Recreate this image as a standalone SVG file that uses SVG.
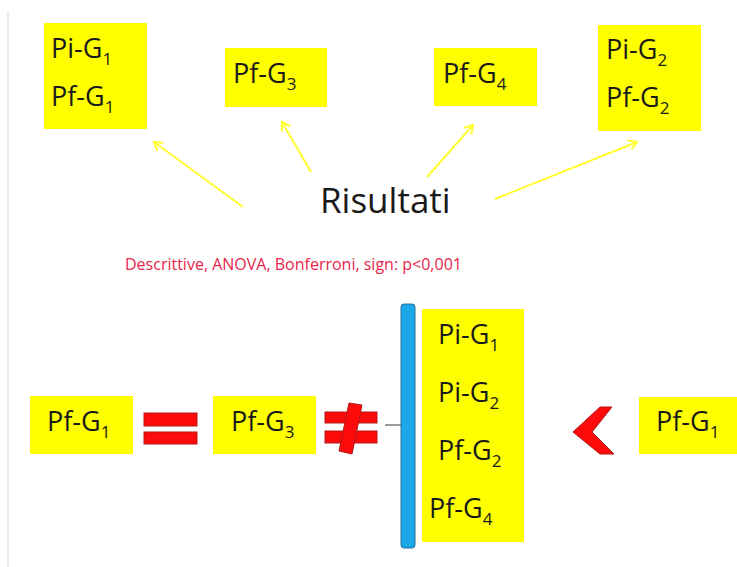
<svg xmlns="http://www.w3.org/2000/svg" width="737" height="567" viewBox="0 0 737 567">
<defs>
<style>
.box{fill:#ffff00}
.t{font-family:"Open Sans","Liberation Sans",sans-serif;font-size:27px;fill:#1a1a1a}
.s{font-size:17px}
.arr{stroke:#ffff30;stroke-width:2;fill:none}
.red{fill:#ff0a0a;stroke:#b01818;stroke-width:1}
</style>
<marker id="ah" markerWidth="12" markerHeight="12" refX="10" refY="6" orient="auto" markerUnits="userSpaceOnUse">
<path d="M2,1 L10,6 L2,11" fill="none" stroke="#ffff30" stroke-width="2"/>
</marker>
</defs>
<rect width="737" height="567" fill="#ffffff"/>
<line x1="8" y1="12" x2="8" y2="567" stroke="#d8d8d8" stroke-width="1"/>

<g id="n-top1">
<rect class="box" x="44" y="23" width="103" height="106"/>
<text class="t" x="51" y="58">Pi-G<tspan class="s" dy="7">1</tspan></text>
<text class="t" x="51" y="106">Pf-G<tspan class="s" dy="7">1</tspan></text>
</g>
<g id="n-top2">
<rect class="box" x="225" y="48" width="102" height="59"/>
<text class="t" x="233" y="83">Pf-G<tspan class="s" dy="7">3</tspan></text>
</g>
<g id="n-top3">
<rect class="box" x="434" y="48" width="103" height="58"/>
<text class="t" x="443" y="83">Pf-G<tspan class="s" dy="7">4</tspan></text>
</g>
<g id="n-top4">
<rect class="box" x="598" y="25" width="103" height="106"/>
<text class="t" x="606" y="59">Pi-G<tspan class="s" dy="7">2</tspan></text>
<text class="t" x="606" y="107">Pf-G<tspan class="s" dy="7">2</tspan></text>
</g>
<g id="n-risultati">
<text x="320" y="213" font-family="Open Sans, Liberation Sans, sans-serif" font-size="35" fill="#1a1a1a">Risultati</text>
</g>
<g id="n-note">
<text x="125" y="270" font-family="Open Sans, Liberation Sans, sans-serif" font-size="16" fill="#e8254a">Descrittive, ANOVA, Bonferroni, sign: p&lt;0,001</text>
</g>

<g id="connectors">
<line class="arr" x1="243" y1="207" x2="154" y2="142" marker-end="url(#ah)"/>
<line class="arr" x1="311" y1="172" x2="282" y2="122" marker-end="url(#ah)"/>
<line class="arr" x1="427" y1="177" x2="473" y2="125" marker-end="url(#ah)"/>
<line class="arr" x1="495" y1="199" x2="637" y2="142" marker-end="url(#ah)"/>
<line x1="385" y1="425" x2="401" y2="425" stroke="#555" stroke-width="1.2"/>
</g>

<g id="n-pfg1-left">
<rect class="box" x="30" y="396" width="103" height="58"/>
<text class="t" x="47" y="431">Pf-G<tspan class="s" dy="7">1</tspan></text>
</g>
<g id="eq">
<rect class="red" x="144" y="413" width="53" height="13"/>
<rect class="red" x="144" y="432" width="53" height="12"/>
</g>
<g id="n-pfg3-mid">
<rect class="box" x="213" y="396" width="103" height="58"/>
<text class="t" x="231" y="431">Pf-G<tspan class="s" dy="7">3</tspan></text>
</g>
<g id="neq">
<rect class="red" x="325" y="412" width="52" height="11"/>
<rect class="red" x="325" y="431" width="52" height="12"/>
<polygon class="red" points="349,403 362,405 352,454 339,451"/>
</g>
<g id="bracket">
<rect x="401" y="304" width="14" height="244" rx="3" fill="#1ba8ea" stroke="#2a6f9c" stroke-width="1"/>
</g>
<g id="n-group">
<rect class="box" x="422" y="309" width="102" height="233"/>
<text class="t" x="438" y="344">Pi-G<tspan class="s" dy="7">1</tspan></text>
<text class="t" x="438" y="402">Pi-G<tspan class="s" dy="7">2</tspan></text>
<text class="t" x="438" y="460">Pf-G<tspan class="s" dy="7">2</tspan></text>
<text class="t" x="429" y="518">Pf-G<tspan class="s" dy="7">4</tspan></text>
</g>
<g id="lt">
<polygon class="red" points="600,407 612,407 592,432 614,454 600,454 573,432"/>
</g>
<g id="n-pfg1-right">
<rect class="box" x="639" y="397" width="98" height="57"/>
<text class="t" x="656" y="431">Pf-G<tspan class="s" dy="7">1</tspan></text>
</g>
</svg>
